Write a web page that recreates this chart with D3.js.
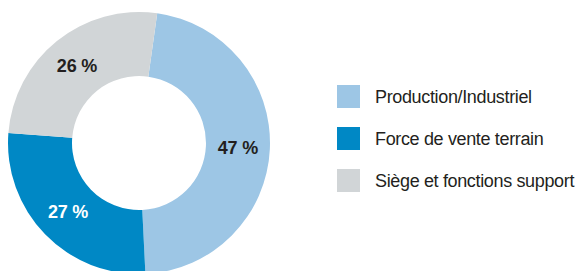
<!DOCTYPE html>
<html>
<head>
<meta charset="utf-8">
<script src="https://cdn.jsdelivr.net/npm/d3@7"></script>
<style>
  body { margin: 0; background: #fff; }
  svg { display: block; }
</style>
</head>
<body>
<div id="chart"></div>
<script>
var categories = ["Production/Industriel", "Force de vente terrain", "Siège et fonctions support"];
var values = [47, 27, 26];
var labels = ["47 %", "27 %", "26 %"];
var colors = ["#9dc6e5", "#0088c5", "#d1d5d7"];
var labelColors = ["#231f20", "#ffffff", "#231f20"];

var width = 576, height = 271;
var cx = 139, cy = 143, outerR = 131, innerR = 67;

var svg = d3.select("#chart").append("svg")
  .attr("width", width)
  .attr("height", height);

var color = d3.scaleOrdinal().domain(categories).range(colors);

// first slice starts a little right of 12 o'clock
var pie = d3.pie()
  .sort(null)
  .startAngle(8 * Math.PI / 180)
  .endAngle(8 * Math.PI / 180 + 2 * Math.PI)
  .value(function(d) { return d.value; });

var arc = d3.arc().innerRadius(innerR).outerRadius(outerR);

var data = categories.map(function(c, i) {
  return {name: c, value: values[i], label: labels[i], labelColor: labelColors[i]};
});

var g = svg.append("g").attr("transform", "translate(" + cx + "," + cy + ")");

var slices = g.selectAll(".slice")
  .data(pie(data))
  .enter().append("g").attr("class", "slice");

slices.append("path")
  .attr("d", arc)
  .style("fill", function(d) { return color(d.data.name); });

slices.append("text")
  .attr("transform", function(d) { return "translate(" + arc.centroid(d) + ")"; })
  .attr("text-anchor", "middle")
  .attr("dy", ".35em")
  .style("font", "bold 18px 'Liberation Sans', Arial, sans-serif")
  .style("letter-spacing", "-0.2px")
  .style("fill", function(d) { return d.data.labelColor; })
  .text(function(d) { return d.data.label; });

// legend
var legend = svg.append("g").attr("class", "legend")
  .attr("transform", "translate(337,85)");

var items = legend.selectAll(".item")
  .data(categories)
  .enter().append("g")
  .attr("class", "item")
  .attr("transform", function(d, i) { return "translate(0," + i * 42 + ")"; });

items.append("rect")
  .attr("width", 23)
  .attr("height", 23)
  .style("fill", color);

items.append("text")
  .attr("x", 38)
  .attr("y", 12)
  .attr("dy", ".35em")
  .style("font", "18px 'Liberation Sans', Arial, sans-serif")
  .style("letter-spacing", "-0.35px")
  .style("fill", "#231f20")
  .text(function(d) { return d; });
</script>
</body>
</html>
